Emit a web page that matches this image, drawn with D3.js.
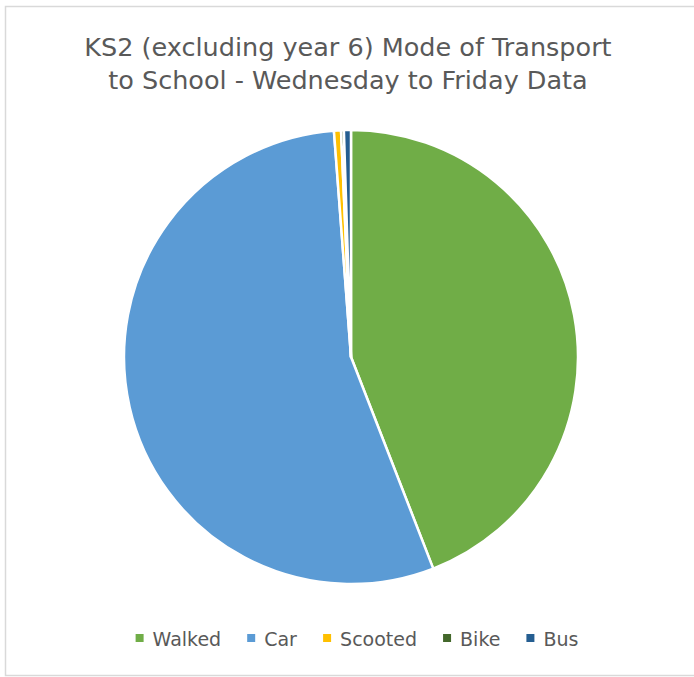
<!DOCTYPE html>
<html>
<head>
<meta charset="utf-8">
<script src="https://cdn.jsdelivr.net/npm/d3@7"></script>
<style>
  body { margin: 0; background: #fff; }
  svg { display: block; }
</style>
</head>
<body>
<svg id="chart" width="694" height="677"></svg>
<script>
// Data
var categories = ["Walked", "Car", "Scooted", "Bike", "Bus"];
var values = [44.1, 54.7, 0.5, 0.2, 0.5];
var colours = ["#70ad47", "#5b9bd5", "#ffc000", "#43682b", "#255e91"];
var titleLines = ["KS2 (excluding year 6) Mode of Transport", "to School - Wednesday to Friday Data"];

var width = 694, height = 677,
  cx = 351, cy = 357, radius = 227,
  font = "DejaVu Sans, Verdana, sans-serif";

var svg = d3.select("#chart");

// chart border
svg.append("rect")
  .attr("x", 5.5).attr("y", 6.5)
  .attr("width", 700).attr("height", 669)
  .style("fill", "#fff")
  .style("stroke", "#d9d9d9")
  .style("stroke-width", 1.5);

// Title
svg.append("g").selectAll("text")
  .data(titleLines)
  .enter().append("text")
  .attr("x", 348)
  .attr("y", function(d, i) { return 56 + i * 33; })
  .attr("text-anchor", "middle")
  .style("font-family", font)
  .style("font-size", "25.5px")
  .style("fill", "#595959")
  .text(function(d) { return d; });

// Pie
var pie = d3.pie().sort(null).value(function(d) { return d; });
var arc = d3.arc().innerRadius(0).outerRadius(radius);
var color = d3.scaleOrdinal().domain(categories).range(colours);

svg.append("g")
  .attr("transform", "translate(" + cx + "," + cy + ")")
  .selectAll("path")
  .data(pie(values))
  .enter().append("path")
  .attr("d", arc)
  .style("fill", function(d, i) { return color(categories[i]); })
  .style("stroke", "#fff")
  .style("stroke-width", 2.5)
  .style("stroke-linejoin", "round");

// Legend
var legend = svg.append("g");
var items = legend.selectAll("g")
  .data(categories)
  .enter().append("g");
items.append("rect")
  .attr("width", 8).attr("height", 8)
  .attr("y", -12)
  .style("fill", function(d) { return color(d); });
items.append("text")
  .attr("x", 17)
  .style("font-family", font)
  .style("font-size", "19px")
  .style("fill", "#595959")
  .text(function(d) { return d; });

var gap = 26, xpos = 0;
items.each(function() {
  var w = this.getBBox().width;
  d3.select(this).attr("transform", "translate(" + xpos + ",0)");
  xpos += w + gap;
});
var total = xpos - gap;
legend.attr("transform", "translate(" + (357 - total / 2) + ",646)");
</script>
</body>
</html>
